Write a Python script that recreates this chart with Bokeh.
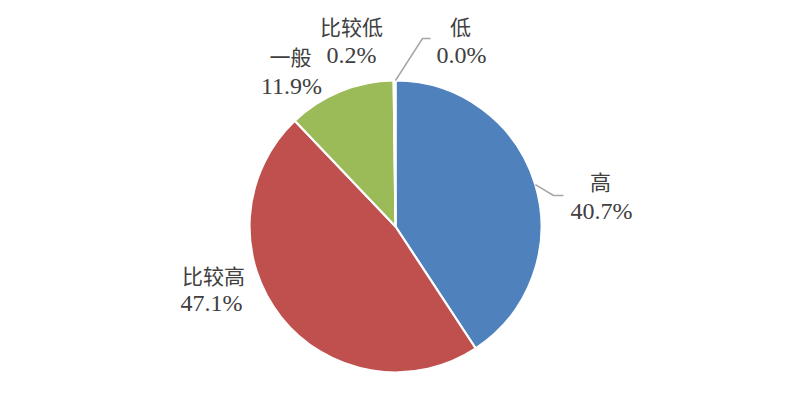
import math
from bokeh.plotting import figure
from bokeh.models import Range1d, ColumnDataSource
from bokeh.core.properties import value
from bokeh.embed import file_html
from bokeh.resources import INLINE

categories = ["高", "比较高", "一般", "比较低", "低"]
percents = [40.7, 47.1, 11.9, 0.2, 0.0]
pct_labels = ["40.7%", "47.1%", "11.9%", "0.2%", "0.0%"]
colors = ["#4F81BD", "#C0504D", "#9BBB59", "#8064A2", "#4BACC6"]

W, H = 775, 388
CX, CY, R = 395, 404 - 226, 146

p = figure(width=W, height=H, output_backend="svg", toolbar_location=None,
           x_range=Range1d(0, W), y_range=Range1d(404 - H, 404),
           min_border=0)
p.axis.visible = False
p.grid.visible = False
p.outline_line_color = None
p.background_fill_color = "white"

total = sum(percents)
starts, ends = [], []
cum = 0.0
for v in percents:
    a0 = math.pi / 2 - cum / total * 2 * math.pi
    cum += v
    a1 = math.pi / 2 - cum / total * 2 * math.pi
    starts.append(a0)
    ends.append(a1)

keep = [i for i, v in enumerate(percents) if v > 0]
src = ColumnDataSource(dict(x=[CX] * len(keep), y=[CY] * len(keep),
                            s=[starts[i] for i in keep], e=[ends[i] for i in keep],
                            c=[colors[i] for i in keep]))
p.wedge(x="x", y="y", radius=R, start_angle="s", end_angle="e", direction="clock",
        fill_color="c", line_color="white", line_width=2.2, source=src)

tcol = "#404040"
lcol = "#A6A6A6"

def edge_point(i):
    mid = (starts[i] + ends[i]) / 2
    return CX + R * math.cos(mid), CY + R * math.sin(mid)

# 高
x0, y0 = edge_point(0)
p.line([x0, 553, 563], [y0, 404 - 195, 404 - 195], line_color=lcol, line_width=1.5)
# 低
x0, y0 = edge_point(4)
p.line([x0, 422, 430], [y0, 404 - 38, 404 - 38], line_color=lcol, line_width=1.5)

name_pos = [(600, 180), (213, 274), (290, 55), (351, 25), (460, 25)]
pct_pos = [(601, 210), (211, 302), (291, 85), (351, 54), (461, 54)]

nsrc = ColumnDataSource(dict(x=[q[0] for q in name_pos], y=[404 - q[1] for q in name_pos], t=categories))
psrc = ColumnDataSource(dict(x=[q[0] for q in pct_pos], y=[404 - q[1] for q in pct_pos], t=pct_labels))
p.text(x="x", y="y", text="t", source=nsrc, text_font=value("Noto Sans CJK SC"),
       text_font_size="21px", text_color=tcol, text_align="center", text_baseline="middle")
p.text(x="x", y="y", text="t", source=psrc, text_font=value("Liberation Serif"),
       text_font_size="24px", text_color=tcol, text_align="center", text_baseline="middle")

open("out.html", "w").write(file_html(p, INLINE))
